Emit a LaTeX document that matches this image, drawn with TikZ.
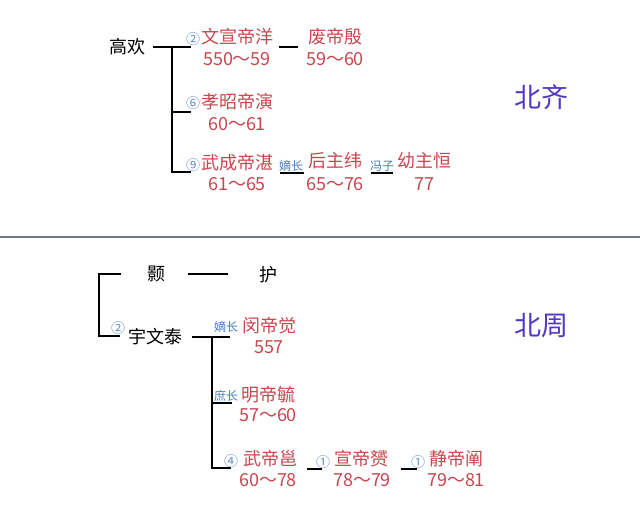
\documentclass[tikz,border=0pt]{standalone}
\usepackage{fontspec}
\setmainfont{Noto Sans CJK SC}
\definecolor{emred}{HTML}{C8474F}
\definecolor{lblue}{HTML}{4A7CC0}
\definecolor{ttl}{HTML}{5236C6}
\definecolor{sep}{HTML}{6E7A84}
\begin{document}
\begin{tikzpicture}[x=1pt,y=-1pt,
  emp/.style={text=emred,font=\fontsize{18}{18}\selectfont,inner sep=0pt,anchor=center},
  yr/.style={text=emred,font=\fontsize{18}{18}\selectfont,inner sep=0pt,anchor=center},
  blk/.style={text=black,font=\fontsize{18}{18}\selectfont,inner sep=0pt,anchor=center},
  lbl/.style={text=lblue,font=\fontsize{12}{12}\selectfont,inner sep=0pt,anchor=center},
  circ/.style={text=lblue!85,font=\fontsize{14}{14}\selectfont,inner sep=0pt,anchor=center},
  ttlnode/.style={text=ttl,font=\fontsize{27}{28}\selectfont,inner sep=0pt,anchor=center},
  conn/.style={line width=1.6pt,black},
  uline/.style={line width=1.2pt,black}]
\useasboundingbox (0,0) rectangle (640,512);
\fill[white] (0,0) rectangle (640,512);

% ---------- 北齐 ----------
\node[blk] (gaohuan) at (127,47) {高欢};
\coordinate (qa) at (153,47);
\coordinate (qb) at (172,47);
\coordinate (qc) at (172,172);
\coordinate (q1) at (191,47);
\coordinate (q2) at (191,112);
\coordinate (q3) at (191,172);
\draw[conn] (qa) -- (q1);
\draw[conn] (qb) -- (qc) -- (q3);
\draw[conn] (qb |- q2) -- (q2);

\node[circ] (c2) at (193,39) {②};
\node[emp] (wenxuan) at (237,37) {文宣帝洋};
\node[yr] (wenxuany) at (237,59) {550～59};
\coordinate (wa) at (279,47);
\coordinate (wb) at (298,47);
\draw[conn] (wa) -- (wb);
\node[emp] (feidi) at (335,37) {废帝殷};
\node[yr] (feidiy) at (335,59) {59～60};

\node[circ] (c6) at (193,103) {⑥};
\node[emp] (xiaozhao) at (237,102) {孝昭帝演};
\node[yr] (xiaozhaoy) at (237,124) {60～61};

\node[circ] (c9) at (193,165) {⑨};
\node[emp] (wucheng) at (237,163) {武成帝湛};
\node[yr] (wuchengy) at (237,184) {61～65};
\node[lbl] (dizhang1) at (291,166) {嫡长};
\coordinate (da) at (280,173);
\coordinate (db) at (304,173);
\draw[uline] (da) -- (db);
\node[emp] (houzhu) at (335,161) {后主纬};
\node[yr] (houzhuy) at (335,184) {65～76};
\node[lbl] (fengzi) at (382,166) {冯子};
\coordinate (fa) at (371,173);
\coordinate (fb) at (393,173);
\draw[uline] (fa) -- (fb);
\node[emp] (youzhu) at (424,161) {幼主恒};
\node[yr] (youzhuy) at (424,184) {77};

\node[ttlnode] (beiqi) at (541,97) {北齐};

% separator
\coordinate (sl) at (0,237);
\coordinate (sr) at (640,237);
\draw[sep,line width=1.6pt] (sl) -- (sr);

% ---------- 北周 ----------
\coordinate (ba) at (121,274);
\coordinate (bb) at (99,274);
\coordinate (bc) at (99,336);
\coordinate (bd) at (120,336);
\draw[conn] (ba) -- (bb) -- (bc) -- (bd);
\node[blk] (hao) at (156,274) {颢};
\coordinate (ha) at (188,274);
\coordinate (hb) at (228,274);
\draw[conn] (ha) -- (hb);
\node[blk] (hu) at (268,275) {护};

\node[circ] (c2b) at (118,328) {②};
\node[blk] (yuwentai) at (155,337) {宇文泰};
\coordinate (ya) at (192,337);
\coordinate (yb) at (212,337);
\coordinate (yc) at (230,337);
\coordinate (yd) at (212,468);
\coordinate (ye) at (231,468);
\coordinate (yf) at (232,403);
\draw[conn] (ya) -- (yc);
\draw[conn] (yb) -- (yd) -- (ye);
\draw[conn] (yb |- yf) -- (yf);

\node[lbl] (dizhang2) at (226,327) {嫡长};
\node[emp] (mindi) at (269,326) {闵帝觉};
\node[yr] (mindiy) at (269,347) {557};

\node[lbl] (shuzhang) at (226,396) {庶长};
\node[emp] (mingdi) at (268,395) {明帝毓};
\node[yr] (mingdiy) at (268,415) {57～60};

\node[circ] (c4) at (231,461) {④};
\node[emp] (wudi) at (270,459) {武帝邕};
\node[yr] (wudiy) at (268,480) {60～78};
\coordinate (wda) at (307,469);
\coordinate (wdb) at (322,469);
\draw[conn] (wda) -- (wdb);
\node[circ] (c1a) at (323,462) {①};
\node[emp] (xuandi) at (361,459) {宣帝赟};
\node[yr] (xuandiy) at (362,480) {78～79};
\coordinate (xda) at (401,469);
\coordinate (xdb) at (417,469);
\draw[conn] (xda) -- (xdb);
\node[circ] (c1b) at (418,462) {①};
\node[emp] (jingdi) at (456,459) {静帝阐};
\node[yr] (jingdiy) at (456,480) {79～81};

\node[ttlnode] (beizhou) at (541,326) {北周};
\end{tikzpicture}
\end{document}
